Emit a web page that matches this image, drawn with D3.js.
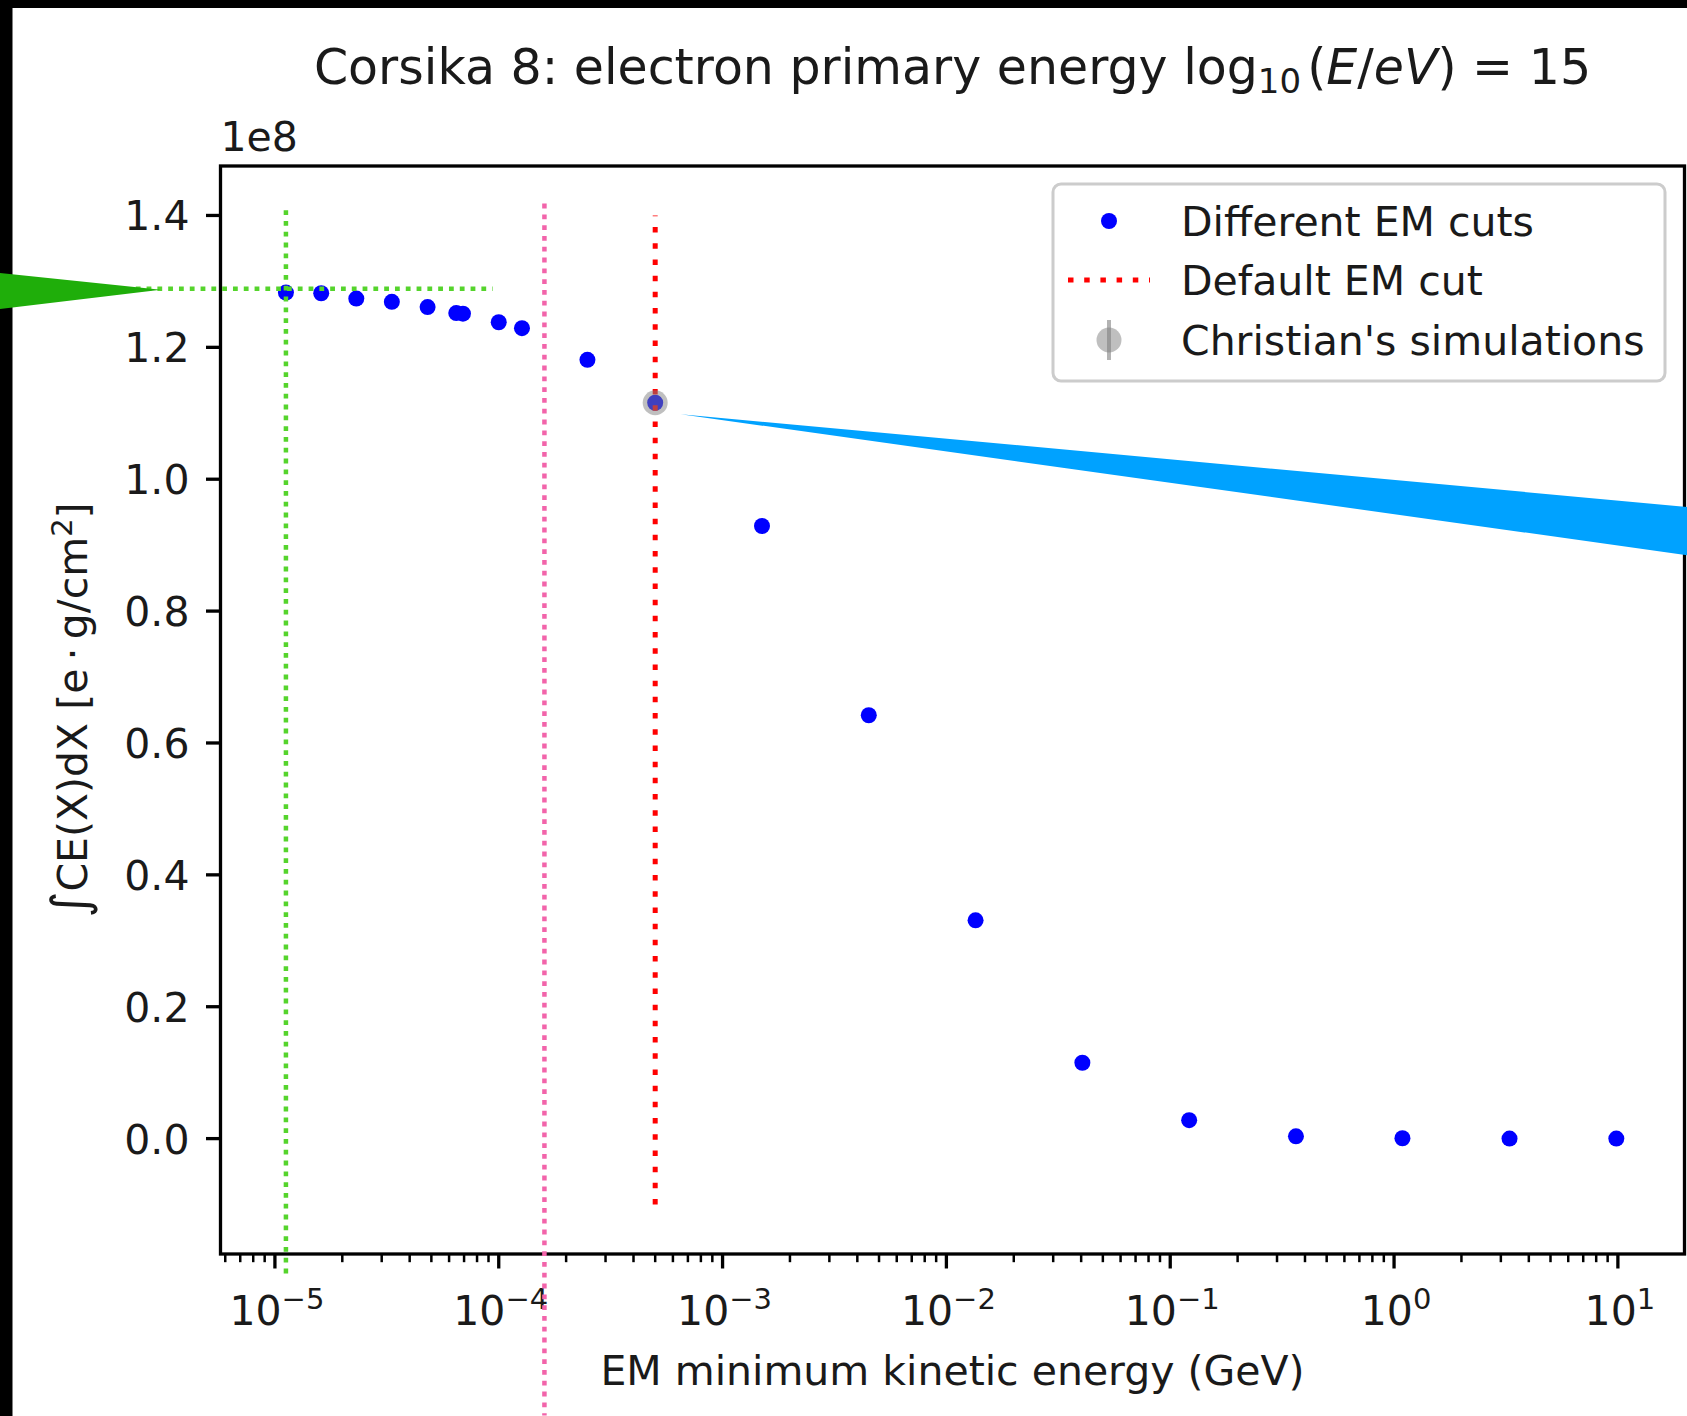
<!DOCTYPE html>
<html>
<head>
<meta charset="utf-8">
<script src="https://cdn.jsdelivr.net/npm/d3@7"></script>
<style>
  html, body { margin: 0; padding: 0; background: #000; }
  svg { display: block; }
  text { font-family: "DejaVu Sans", sans-serif; fill: #1a1a1a; }
</style>
</head>
<body>
<svg id="chart" width="1687" height="1416"></svg>
<script>
// EM cut scan: minimum kinetic energy of EM particles (GeV)
const emCutsGeV = [1.12e-5, 1.61e-5, 2.31e-5, 3.33e-5, 4.81e-5, 6.46e-5, 6.92e-5, 1.0e-4, 1.27e-4, 2.49e-4,
                   5.0e-4, 1.5e-3, 4.5e-3, 1.35e-2, 4.05e-2, 0.1215, 0.3645, 1.09, 3.28, 9.84];
// integrated charge excess for each cut, in units of 1e8 e·g/cm²
const integratedCE = [1.283, 1.282, 1.274, 1.269, 1.261, 1.252, 1.251, 1.238, 1.229, 1.181,
                      1.116, 0.929, 0.642, 0.331, 0.115, 0.028, 0.0035, 0.0005, 0.0001, 0.0];
// default cut and its vertical extent
const defaultCutGeV = [5e-4];
const defaultCutSpan = [-0.1, 1.4];
// reference simulation
const christianCutGeV = [5e-4];
const christianCE = [1.116];
// axis ticks
const xTickExponents = [-5, -4, -3, -2, -1, 0, 1];
const yTickValues = [0.0, 0.2, 0.4, 0.6, 0.8, 1.0, 1.2, 1.4];
const legendLabels = ["Different EM cuts", "Default EM cut", "Christian's simulations"];
// hand-drawn guide lines (energy in GeV, level in 1e8 units)
const greenGuideCutGeV = [1.12e-5];
const greenGuideSpan = [-0.21, 1.408];
const greenGuideLevel = [1.289];
const greenGuideRangeGeV = [2.39e-6, 9.4e-5];
const pinkGuideCutGeV = [1.6e-4];
const pinkGuideSpan = [-0.42, 1.418];

const W = 1687, H = 1416;
const svg = d3.select("#chart");

// page frame: dark border on left and top, white figure
svg.append("rect").attr("x", 0).attr("y", 0).attr("width", W).attr("height", H).attr("fill", "#000");
svg.append("rect").attr("x", 12.5).attr("y", 8).attr("width", W - 12.5).attr("height", H - 8).attr("fill", "#fff");

const plot = { left: 220.5, right: 1684.5, top: 166, bottom: 1254 };
const x = d3.scaleLog().domain([Math.pow(10, -5.2431), Math.pow(10, 1.2976)]).range([plot.left, plot.right]);
const y = d3.scaleLinear().domain([-0.175, 1.475]).range([plot.bottom, plot.top]);

const FS = 41;        // 10 pt
const spineW = 3.3;

// data marks
const gData = svg.append("g");
gData.selectAll("circle.cut")
  .data(d3.zip(emCutsGeV, integratedCE))
  .join("circle")
  .attr("class", "cut")
  .attr("cx", d => x(d[0])).attr("cy", d => y(d[1]))
  .attr("r", 8).attr("fill", "#0000ff");

// default cut as a dotted vertical segment
gData.selectAll("line.default")
  .data(defaultCutGeV)
  .join("line")
  .attr("class", "default")
  .attr("x1", d => x(d)).attr("x2", d => x(d))
  .attr("y1", y(defaultCutSpan[0])).attr("y2", y(defaultCutSpan[1]))
  .attr("stroke", "#ff0000").attr("stroke-width", 5)
  .attr("stroke-dasharray", "5.5,10.7");

// reference simulation marker (semi-transparent)
gData.selectAll("circle.christian")
  .data(d3.zip(christianCutGeV, christianCE))
  .join("circle")
  .attr("class", "christian")
  .attr("cx", d => x(d[0])).attr("cy", d => y(d[1]))
  .attr("r", 12.5).attr("fill", "#808080").attr("fill-opacity", 0.5);

// spines
svg.append("rect")
  .attr("x", plot.left).attr("y", plot.top)
  .attr("width", plot.right - plot.left).attr("height", plot.bottom - plot.top)
  .attr("fill", "none").attr("stroke", "#000").attr("stroke-width", spineW);

// x axis: major ticks per decade, minor ticks 2..9
const [lo, hi] = x.domain();
const minorTicks = [];
for (let e = -6; e <= 1; e++) {
  for (let m = 2; m <= 9; m++) {
    const v = m * Math.pow(10, e);
    if (v >= lo && v <= hi) minorTicks.push(v);
  }
}
const gx = svg.append("g");
gx.selectAll("line.minor").data(minorTicks).join("line")
  .attr("x1", d => x(d)).attr("x2", d => x(d))
  .attr("y1", plot.bottom).attr("y2", plot.bottom + 8.2)
  .attr("stroke", "#000").attr("stroke-width", 2.5);
gx.selectAll("line.major").data(xTickExponents).join("line")
  .attr("x1", d => x(Math.pow(10, d))).attr("x2", d => x(Math.pow(10, d)))
  .attr("y1", plot.bottom).attr("y2", plot.bottom + 14.5)
  .attr("stroke", "#000").attr("stroke-width", spineW);
const xl = gx.selectAll("text.xt").data(xTickExponents).join("text")
  .attr("class", "xt")
  .attr("x", d => x(Math.pow(10, d)) + 2).attr("y", 1325)
  .attr("text-anchor", "middle").attr("font-size", FS);
xl.append("tspan").text("10");
xl.append("tspan").attr("dy", -16).attr("font-size", 29)
  .text(d => (d < 0 ? "\u2212" + Math.abs(d) : String(d)));

// y axis
const gy = svg.append("g");
gy.selectAll("line").data(yTickValues).join("line")
  .attr("x1", plot.left - 14.5).attr("x2", plot.left)
  .attr("y1", d => y(d)).attr("y2", d => y(d))
  .attr("stroke", "#000").attr("stroke-width", spineW);
gy.selectAll("text").data(yTickValues).join("text")
  .attr("x", plot.left - 31).attr("y", d => y(d) + 15)
  .attr("text-anchor", "end").attr("font-size", FS)
  .text(d => d.toFixed(1));

// offset text
svg.append("text").attr("x", plot.left).attr("y", 151).attr("font-size", FS).text("1e8");

// title
const title = svg.append("text")
  .attr("x", (plot.left + plot.right) / 2).attr("y", 84)
  .attr("text-anchor", "middle").attr("font-size", 49);
title.append("tspan").text("Corsika 8: electron primary energy log");
title.append("tspan").attr("font-size", 34).attr("dy", 9).text("10");
title.append("tspan").attr("dy", -9).attr("dx", 6).text("(");
title.append("tspan").attr("font-style", "italic").text("E");
title.append("tspan").text("/");
title.append("tspan").attr("font-style", "italic").text("eV");
title.append("tspan").text(") = 15");

// x label
svg.append("text")
  .attr("x", (plot.left + plot.right) / 2).attr("y", 1385)
  .attr("text-anchor", "middle").attr("font-size", FS)
  .text("EM minimum kinetic energy (GeV)");

// y label (rotated)
const ylab = svg.append("text")
  .attr("transform", `translate(87,${(plot.top + plot.bottom) / 2}) rotate(-90)`)
  .attr("text-anchor", "middle").attr("font-size", FS);
ylab.append("tspan").attr("font-size", 50).text("\u222B");
ylab.append("tspan").text("CE(X)dX [e\u2009\u00B7\u2009g/cm");
ylab.append("tspan").attr("font-size", 29).attr("dy", -15).text("2");
ylab.append("tspan").attr("dy", 15).text("]");

// legend
const leg = svg.append("g");
leg.append("rect")
  .attr("x", 1053).attr("y", 184).attr("width", 612).attr("height", 197)
  .attr("rx", 8).attr("fill", "#fff").attr("fill-opacity", 0.8)
  .attr("stroke", "#cccccc").attr("stroke-width", 3);
const rowY = [221, 280, 340];
const handleX0 = 1068, handleX1 = 1150, handleMid = (handleX0 + handleX1) / 2;
leg.append("circle").attr("cx", handleMid).attr("cy", rowY[0]).attr("r", 8).attr("fill", "#0000ff");
leg.append("line")
  .attr("x1", handleX0).attr("x2", handleX1).attr("y1", rowY[1]).attr("y2", rowY[1])
  .attr("stroke", "#ff0000").attr("stroke-width", 5).attr("stroke-dasharray", "5.5,10.7");
leg.append("line")
  .attr("x1", handleMid).attr("x2", handleMid).attr("y1", rowY[2] - 20).attr("y2", rowY[2] + 20)
  .attr("stroke", "#808080").attr("stroke-opacity", 0.6).attr("stroke-width", 4);
leg.append("circle").attr("cx", handleMid).attr("cy", rowY[2]).attr("r", 12.5)
  .attr("fill", "#808080").attr("fill-opacity", 0.5);
leg.selectAll("text").data(legendLabels).join("text")
  .attr("x", 1181).attr("y", (d, i) => rowY[i] + 14.5)
  .attr("font-size", FS).text(d => d);

// guide overlays
const gGuide = svg.append("g");
function dotted(x1, y1, x2, y2, color) {
  gGuide.append("line")
    .attr("x1", x1).attr("y1", y1).attr("x2", x2).attr("y2", y2)
    .attr("stroke", color).attr("stroke-width", 4.5).attr("stroke-dasharray", "4.8,6");
}
const lime = "#55d42c", pink = "#f264aa";
dotted(x(greenGuideCutGeV[0]), y(greenGuideSpan[1]), x(greenGuideCutGeV[0]), y(greenGuideSpan[0]), lime);
dotted(x(greenGuideRangeGeV[0]), y(greenGuideLevel[0]), x(greenGuideRangeGeV[1]), y(greenGuideLevel[0]), lime);
dotted(x(pinkGuideCutGeV[0]), y(pinkGuideSpan[1]), x(pinkGuideCutGeV[0]), y(pinkGuideSpan[0]), pink);

// callout arrows
const gTipX = x(greenGuideRangeGeV[0]) + 25, gTipY = y(greenGuideLevel[0]) + 1;
gGuide.append("path")
  .attr("d", `M${-20},${gTipY - 18.7} L${gTipX},${gTipY} L${-20},${gTipY + 21.8} Z`)
  .attr("fill", "#1fae0a");
const bTipX = x(christianCutGeV[0]) + 25.5, bTipY = y(christianCE[0]) + 11.5;
const bEnd = 1700;
gGuide.append("path")
  .attr("d", `M${bTipX},${bTipY} L${bEnd},${bTipY + (bEnd - bTipX) * 0.0921} L${bEnd},${bTipY + (bEnd - bTipX) * 0.1401} Z`)
  .attr("fill", "#00a2ff");
</script>
</body>
</html>
